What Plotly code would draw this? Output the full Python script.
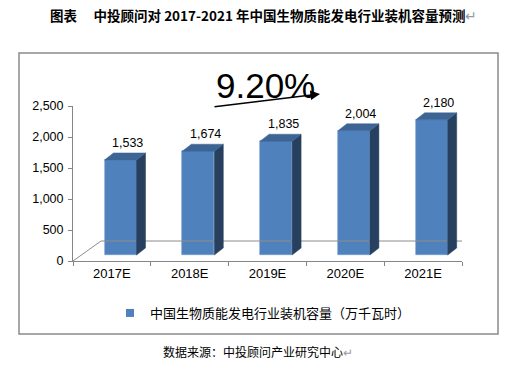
import plotly.graph_objects as go

categories = ["2017E", "2018E", "2019E", "2020E", "2021E"]
values = [1533, 1674, 1835, 2004, 2180]
y_ticks = [0, 500, 1000, 1500, 2000, 2500]
series_name = "中国生物质能发电行业装机容量（万千瓦时）"
growth_label = "9.20%"
title_text = "图表　 中投顾问对 2017-2021 年中国生物质能发电行业装机容量预测"
source_text = "数据来源：中投顾问产业研究中心"

W, H = 505, 368
L, R, T, B = 73, 462, 106, 261  # plot area in pixels
YMAX = 2500
xr = (-0.5, 4.5)
ux = (R - L) / (xr[1] - xr[0])   # px per x unit
uy = (B - T) / YMAX              # px per y unit


def px_x(p):
    return (p - L) / (R - L)


def px_y(p):
    return (B - p) / (B - T)


def data_to_paper_x(v):
    return (v - xr[0]) / (xr[1] - xr[0])


def data_to_paper_y(v):
    return v / YMAX


FRONT = "#4F81BD"
SIDE = "#27405F"
TOP = "#3C6494"

DX = 9 / ux          # depth offset in x units
DY = 7 / uy          # depth offset in y units
BASE = 6 / uy        # bars sit slightly behind the front edge
SHIFT = 8.6 / ux
BW = 32 / ux

fig = go.Figure()

# floor (3D base)
FX = 28 / ux
FY = 20 / uy
fig.add_trace(go.Scatter(
    x=[xr[0], xr[0] + FX, xr[1] + FX - 0.03, xr[1]],
    y=[0, FY, FY, 0],
    mode="lines", line=dict(color="#8C8C8C", width=1),
    hoverinfo="skip", showlegend=False, cliponaxis=False))

xs = [i + SHIFT for i in range(len(values))]

# side and top faces
for xc, v in zip(xs, values):
    x0, x1 = xc - BW / 2, xc + BW / 2
    top = BASE + v
    fig.add_trace(go.Scatter(
        x=[x1, x1 + DX, x1 + DX, x1, x1],
        y=[BASE, BASE + DY, top + DY, top, BASE],
        fill="toself", fillcolor=SIDE, mode="lines",
        line=dict(color=SIDE, width=0.5), hoverinfo="skip",
        showlegend=False, cliponaxis=False))
    fig.add_trace(go.Scatter(
        x=[x0, x0 + DX, x1 + DX, x1, x0],
        y=[top, top + DY, top + DY, top, top],
        fill="toself", fillcolor=TOP, mode="lines",
        line=dict(color=TOP, width=0.5), hoverinfo="skip",
        showlegend=False, cliponaxis=False))

# front faces
fig.add_trace(go.Bar(
    x=xs, y=values, base=BASE, width=BW,
    marker=dict(color=FRONT, line=dict(color="#6F9BD0", width=0.6)),
    showlegend=False, name=series_name))

# data labels (placed in paper coords derived from the data so they are never hidden)
for xc, v in zip(xs, values):
    fig.add_annotation(
        x=data_to_paper_x(xc + 0.09), y=data_to_paper_y(v + 370),
        xref="paper", yref="paper",
        text=f"{v:,}", showarrow=False, xanchor="center", yanchor="middle",
        font=dict(family="Liberation Sans, Arial", size=12.5, color="#000000"))

# legend entry
fig.add_trace(go.Scatter(
    x=[None], y=[None], mode="markers", name=series_name,
    marker=dict(symbol="square", size=8, color=FRONT), showlegend=True))

fig.update_layout(
    width=W, height=H,
    margin=dict(l=L, r=W - R, t=T, b=H - B, pad=0),
    paper_bgcolor="white", plot_bgcolor="rgba(0,0,0,0)",
    bargap=0,
    xaxis=dict(
        range=list(xr), tickvals=list(range(len(categories))),
        ticktext=categories, ticks="", showgrid=False, zeroline=False,
        showline=True, linecolor="#868686", linewidth=1,
        tickfont=dict(family="Liberation Sans, Arial", size=13, color="#000000"),
        minor=dict(tickvals=[i - 0.5 for i in range(len(categories) + 1)],
                   ticks="outside", ticklen=4, tickcolor="#868686", showgrid=False),
        fixedrange=True),
    yaxis=dict(
        range=[0, YMAX], tickvals=y_ticks, tickformat=",",
        ticks="outside", ticklen=4, tickcolor="#868686",
        showgrid=False, zeroline=False, showline=True,
        linecolor="#868686", linewidth=1, ticklabelstandoff=2,
        tickfont=dict(family="Liberation Sans, Arial", size=12.5, color="#000000"),
        fixedrange=True),
    legend=dict(
        x=px_x(110), y=px_y(313), xanchor="left", yanchor="middle",
        orientation="h", bgcolor="rgba(0,0,0,0)", borderwidth=0,
        font=dict(family="Noto Sans CJK SC", size=13, color="#000000"),
        itemwidth=30),
    showlegend=True,
)

# chart frame
fig.add_shape(type="rect", xref="paper", yref="paper",
              x0=px_x(19), x1=px_x(498), y0=px_y(334), y1=px_y(53),
              line=dict(color="#8A8A8A", width=1.5), layer="below")

# title
fig.add_annotation(
    xref="paper", yref="paper", x=px_x(48), y=px_y(15),
    xanchor="left", yanchor="middle", showarrow=False,
    text="<b>" + title_text + "</b><span style='color:#9A9A9A'>↵</span>",
    font=dict(family="Noto Sans CJK SC", size=13.5, color="#000000"))

# growth label
fig.add_annotation(
    xref="paper", yref="paper", x=px_x(265), y=px_y(85),
    xanchor="center", yanchor="middle", showarrow=False,
    text=growth_label,
    font=dict(family="Liberation Sans Narrow, Liberation Sans, Arial", size=35, color="#000000"))

# arrow under growth label
fig.add_annotation(
    xref="paper", yref="paper", x=px_x(320), y=px_y(94),
    ax=213 - 320, ay=107 - 94, axref="pixel", ayref="pixel",
    text="", showarrow=True, arrowhead=2, arrowsize=1.2, arrowwidth=1.6,
    arrowcolor="#000000")

# source
fig.add_annotation(
    xref="paper", yref="paper", x=px_x(258), y=px_y(351),
    xanchor="center", yanchor="middle", showarrow=False,
    text=source_text + "<span style='color:#9A9A9A'>↵</span>",
    font=dict(family="Noto Sans CJK SC", size=12, color="#000000"))

fig.write_html("out.html",
               config={"displayModeBar": False},
               post_script="document.body.style.margin='0';document.body.style.padding='0';")
